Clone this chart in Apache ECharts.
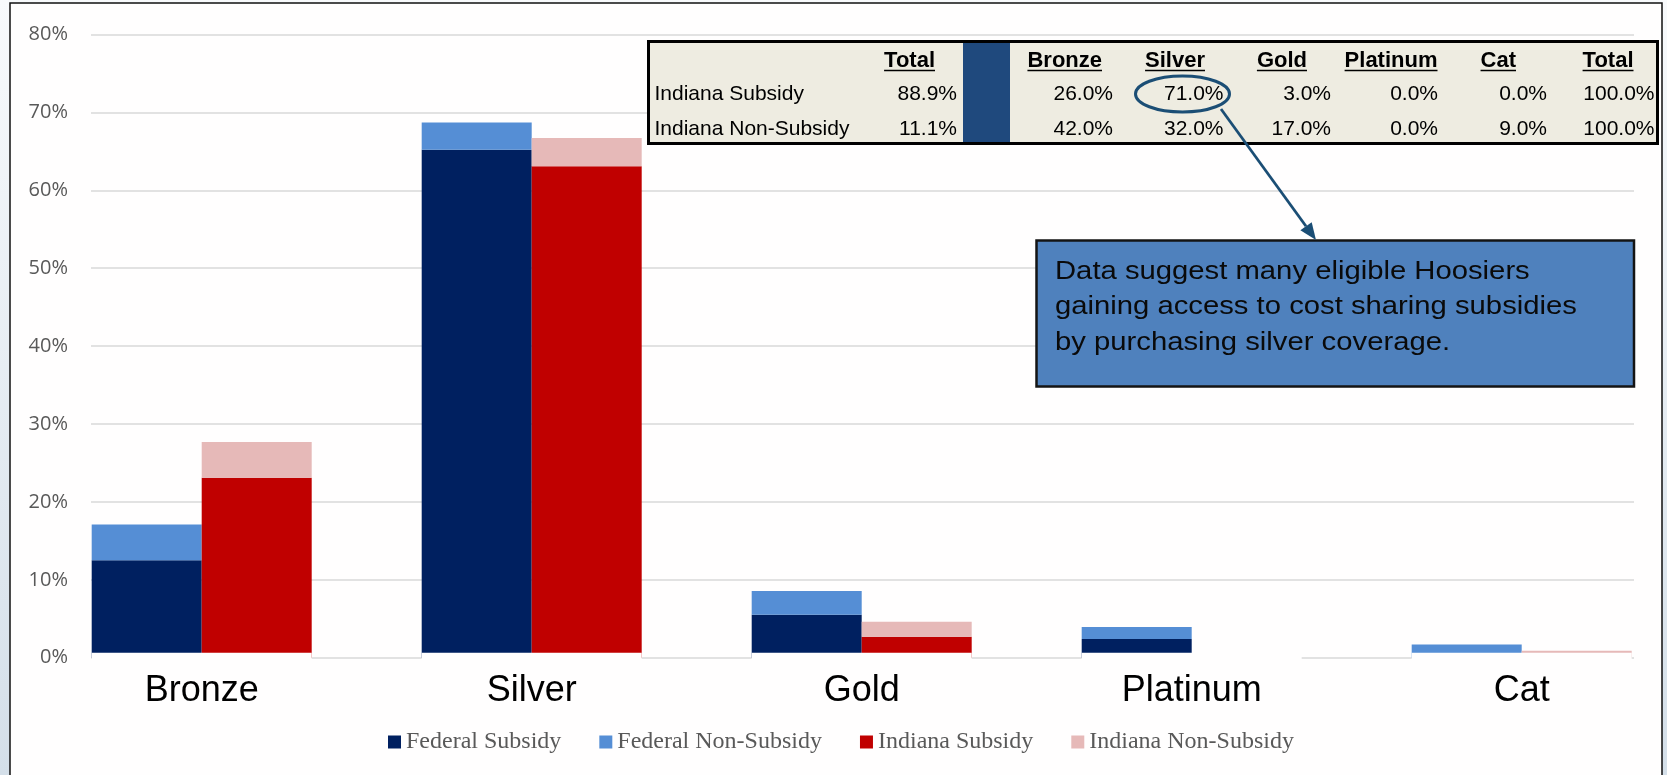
<!DOCTYPE html>
<html>
<head>
<meta charset="utf-8">
<script src="https://cdn.jsdelivr.net/npm/echarts@6/dist/echarts.min.js"></script>
<style>
  html, body { margin: 0; padding: 0; background: #ffffff; }
  #chart { width: 1667px; height: 775px; }
</style>
</head>
<body>
<div id="chart"></div>
<script>
// ---- Data ----
const categories = ['Bronze', 'Silver', 'Gold', 'Platinum', 'Cat'];
const federalSubsidy    = [12.5, 65.2, 5.5, 2.4, 0];
const federalNonSubsidy = [4.6, 3.5, 3.05, 1.55, 1.7];
const indianaSubsidy    = [23.1, 63.1, 2.7, 0, 0];
const indianaNonSubsidy = [4.6, 3.6, 1.9, 0, 0.9];
const yMin = 0, yMax = 80, yStep = 10;

const tableHeaders = ['Total', 'Bronze', 'Silver', 'Gold', 'Platinum', 'Cat', 'Total'];
const tableRowLabels = ['Indiana Subsidy', 'Indiana Non-Subsidy'];
const tableShareOfTotal = [88.9, 11.1];
const tableSubsidyMix    = [26.0, 71.0, 3.0, 0.0, 0.0, 100.0];
const tableNonSubsidyMix = [42.0, 32.0, 17.0, 0.0, 9.0, 100.0];

const calloutLines = [
  'Data suggest many eligible Hoosiers',
  'gaining access to cost sharing subsidies',
  'by purchasing silver coverage.'
];

// ---- Colours ----
const COLORS = {
  fedSub: '#002060', fedNon: '#558ED5', indSub: '#C00000', indNon: '#E6B9B8',
  grid: '#D9D9D9', axisText: '#595959', tableBg: '#EEECE1', tableBlue: '#1F497D',
  callout: '#4F81BD', annot: '#1B4E75'
};

// ---- Layout of the overlay table / callout (pixels) ----
const TABLE = {
  x: 648.5, y: 41.5, w: 1009, h: 102,
  blueX: 963, blueW: 47,
  labelX: 654.5,
  headerRight: [935, 1102, 1205, 1307, 1437.5, 1516, 1633.5],
  valueRight:  [957, 1113, 1223.5, 1331, 1438, 1547, 1654.5],
  headerY: 60.5, rowY: [94.5, 129.5]
};
const CALLOUT = { x: 1036.5, y: 240.5, w: 597.5, h: 146, textX: 1055, textY: 254 };
const ELLIPSE = { cx: 1182.5, cy: 94, rx: 47, ry: 18 };
const ARROW = { x1: 1221, y1: 109, x2: 1316, y2: 240, head: 17, half: 7 };

const measureCtx = document.createElement('canvas').getContext('2d');
function textWidth(str, font) { measureCtx.font = font; return measureCtx.measureText(str).width; }
const pct = v => v.toFixed(1) + '%';

// ---- Overlay graphics ----
const graphics = [];
// slide background and chart frame
graphics.push({
  type: 'rect', z: -100, silent: true,
  shape: { x: 0, y: 0, width: 1667, height: 775 },
  style: { fill: { type: 'linear', x: 0, y: 0, x2: 0, y2: 1,
    colorStops: [{ offset: 0, color: '#f8fafc' }, { offset: 1, color: '#d4dfe9' }] } }
});
graphics.push({
  type: 'rect', z: -99, silent: true,
  shape: { x: 10, y: 3, width: 1652, height: 800 },
  style: { fill: '#fffefe', stroke: '#111111', lineWidth: 1.5 }
});

// table
graphics.push({
  type: 'rect', z: 100, silent: true,
  shape: { x: TABLE.x, y: TABLE.y, width: TABLE.w, height: TABLE.h },
  style: { fill: COLORS.tableBg, stroke: '#000000', lineWidth: 3 }
});
graphics.push({
  type: 'rect', z: 101, silent: true,
  shape: { x: TABLE.blueX, y: TABLE.y + 1.5, width: TABLE.blueW, height: TABLE.h - 3 },
  style: { fill: COLORS.tableBlue }
});
const headFont = 'bold 22px "Liberation Sans", Arial, sans-serif';
tableHeaders.forEach((h, i) => {
  const right = TABLE.headerRight[i];
  graphics.push({
    type: 'text', z: 102, silent: true, x: right, y: TABLE.headerY,
    style: { text: h, fontFamily: '"Liberation Sans", Arial, sans-serif', fontWeight: 'bold',
      fontSize: 22, fill: '#000', align: 'right', verticalAlign: 'middle' }
  });
  const w = textWidth(h, headFont);
  graphics.push({
    type: 'line', z: 102, silent: true,
    shape: { x1: right - w, y1: TABLE.headerY + 10, x2: right, y2: TABLE.headerY + 10 },
    style: { stroke: '#000', lineWidth: 1.6 }
  });
});
const rowMixes = [tableSubsidyMix, tableNonSubsidyMix];
tableRowLabels.forEach((label, r) => {
  const y = TABLE.rowY[r];
  const cells = [tableShareOfTotal[r]].concat(rowMixes[r]);
  graphics.push({
    type: 'text', z: 102, silent: true, x: TABLE.labelX, y: y,
    style: { text: label, fontFamily: '"Liberation Sans", Arial, sans-serif', fontSize: 21,
      fill: '#000', align: 'left', verticalAlign: 'middle' }
  });
  cells.forEach((v, i) => {
    graphics.push({
      type: 'text', z: 102, silent: true, x: TABLE.valueRight[i], y: y,
      style: { text: pct(v), fontFamily: '"Liberation Sans", Arial, sans-serif', fontSize: 21,
        fill: '#000', align: 'right', verticalAlign: 'middle' }
    });
  });
});

// highlight ring and arrow
graphics.push({
  type: 'ellipse', z: 103, silent: true,
  shape: { cx: ELLIPSE.cx, cy: ELLIPSE.cy, rx: ELLIPSE.rx, ry: ELLIPSE.ry },
  style: { fill: 'none', stroke: COLORS.annot, lineWidth: 3 }
});
(function () {
  const dx = ARROW.x2 - ARROW.x1, dy = ARROW.y2 - ARROW.y1;
  const len = Math.hypot(dx, dy), ux = dx / len, uy = dy / len;
  const bx = ARROW.x2 - ux * ARROW.head, by = ARROW.y2 - uy * ARROW.head;
  const nx = -uy, ny = ux;
  graphics.push({
    type: 'line', z: 103, silent: true,
    shape: { x1: ARROW.x1, y1: ARROW.y1, x2: bx, y2: by },
    style: { stroke: COLORS.annot, lineWidth: 2.8 }
  });
  graphics.push({
    type: 'polygon', z: 103, silent: true,
    shape: { points: [[ARROW.x2, ARROW.y2], [bx + nx * ARROW.half, by + ny * ARROW.half], [bx - nx * ARROW.half, by - ny * ARROW.half]] },
    style: { fill: COLORS.annot }
  });
})();

// callout box
graphics.push({
  type: 'rect', z: 100, silent: true,
  shape: { x: CALLOUT.x, y: CALLOUT.y, width: CALLOUT.w, height: CALLOUT.h },
  style: { fill: COLORS.callout, stroke: '#141414', lineWidth: 2.5 }
});
graphics.push({
  type: 'text', z: 101, silent: true, x: CALLOUT.textX, y: CALLOUT.textY, scaleX: 1.17,
  style: { text: calloutLines.join('\n'), fontFamily: '"Liberation Sans", Arial, sans-serif',
    fontSize: 25, lineHeight: 35.5, fill: '#0a0a0a', align: 'left', verticalAlign: 'top' }
});

// ---- Chart ----
const chart = echarts.init(document.getElementById('chart'), null, { renderer: 'canvas' });
const gridTop = 34.5, gridBottom = 117.3;
const barCommon = { type: 'bar', xAxisIndex: 1, yAxisIndex: 1, barGap: '0%', barCategoryGap: '33.33%',
  emphasis: { disabled: true } };

chart.setOption({
  backgroundColor: 'transparent',
  animation: false,
  grid: [
    { left: 91, right: 33, top: gridTop, bottom: gridBottom, outerBoundsMode: 'none', containLabel: false },
    { left: 36.7, width: 1650, top: gridTop, bottom: gridBottom, outerBoundsMode: 'none', containLabel: false }
  ],
  xAxis: [
    { gridIndex: 0, type: 'value', show: false, min: 0, max: 1 },
    {
      gridIndex: 1, type: 'category', data: categories, z: 3,
      axisLine: { show: false }, axisTick: { show: false },
      axisLabel: {
        interval: 0, margin: -5, color: '#000000',
        fontFamily: '"Liberation Sans", Arial, sans-serif', fontSize: 36, lineHeight: 36,
        backgroundColor: '#fffefe', width: 220, overflow: 'none', align: 'center',
        padding: [20, 0, 10, 0]
      }
    }
  ],
  yAxis: [
    {
      gridIndex: 0, type: 'value', min: yMin, max: yMax, interval: yStep,
      axisLine: { show: false }, axisTick: { show: false },
      axisLabel: { formatter: '{value}%', margin: 23, color: COLORS.axisText,
        fontFamily: '"Open Sans", sans-serif', fontSize: 20 },
      splitLine: { show: true, lineStyle: { color: COLORS.grid, width: 1.5 } }
    },
    { gridIndex: 1, type: 'value', min: yMin, max: yMax, interval: yStep, show: false,
      splitLine: { show: false } }
  ],
  legend: {
    left: 388, top: 730, padding: 0, itemGap: 38, itemWidth: 13, itemHeight: 13,
    icon: 'rect', selectedMode: false,
    textStyle: { fontFamily: '"Liberation Serif", "Times New Roman", serif', fontSize: 24, color: COLORS.axisText },
    data: ['Federal Subsidy', 'Federal Non-Subsidy', 'Indiana Subsidy', 'Indiana Non-Subsidy']
  },
  series: [
    Object.assign({ name: 'Federal Subsidy', stack: 'federal', data: federalSubsidy, itemStyle: { color: COLORS.fedSub } }, barCommon),
    Object.assign({ name: 'Federal Non-Subsidy', stack: 'federal', data: federalNonSubsidy, itemStyle: { color: COLORS.fedNon } }, barCommon),
    Object.assign({ name: 'Indiana Subsidy', stack: 'indiana', data: indianaSubsidy, itemStyle: { color: COLORS.indSub } }, barCommon),
    Object.assign({ name: 'Indiana Non-Subsidy', stack: 'indiana', data: indianaNonSubsidy, itemStyle: { color: COLORS.indNon } }, barCommon)
  ],
  graphic: graphics
});
</script>
</body>
</html>
